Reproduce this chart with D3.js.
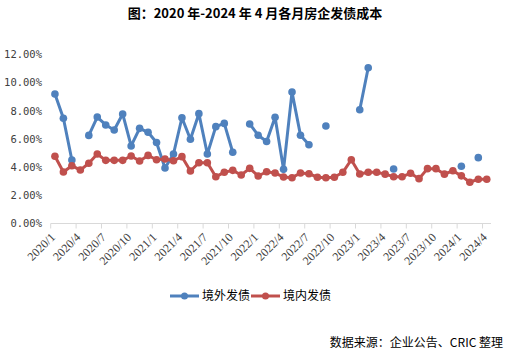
<!DOCTYPE html>
<html><head><meta charset="utf-8">
<script src="https://cdn.jsdelivr.net/npm/d3@7/dist/d3.min.js"></script>
<style>
body{margin:0;background:#fff;}
svg{display:block;}
</style></head>
<body>
<svg id="chart" width="516" height="356"></svg>
<script>
const categories = [
 "2020/1","2020/2","2020/3","2020/4","2020/5","2020/6","2020/7","2020/8","2020/9","2020/10","2020/11","2020/12",
 "2021/1","2021/2","2021/3","2021/4","2021/5","2021/6","2021/7","2021/8","2021/9","2021/10","2021/11","2021/12",
 "2022/1","2022/2","2022/3","2022/4","2022/5","2022/6","2022/7","2022/8","2022/9","2022/10","2022/11","2022/12",
 "2023/1","2023/2","2023/3","2023/4","2023/5","2023/6","2023/7","2023/8","2023/9","2023/10","2023/11","2023/12",
 "2024/1","2024/2","2024/3","2024/4"];
const tickLabels = ["2020/1","2020/4","2020/7","2020/10","2021/1","2021/4","2021/7","2021/10","2022/1","2022/4","2022/7","2022/10","2023/1","2023/4","2023/7","2023/10","2024/1","2024/4"];
const overseas = [9.18,7.46,4.50,null,6.25,7.55,6.99,6.63,7.77,5.50,6.75,6.47,
 5.75,3.94,4.93,7.50,5.97,7.79,4.93,6.87,7.10,5.05,null,7.06,
 6.26,5.82,7.53,3.84,9.32,6.26,5.59,null,6.91,null,null,null,
 8.07,11.05,null,null,3.87,null,null,null,null,null,null,null,
 4.06,null,4.67,null];
const domestic = [4.77,3.65,4.10,3.79,4.27,4.93,4.48,4.48,4.48,4.79,4.43,4.83,
 4.52,4.57,4.45,4.74,3.72,4.31,4.31,3.32,3.63,3.77,3.44,3.91,
 3.37,3.67,3.58,3.30,3.25,3.58,3.53,3.28,3.25,3.28,3.63,4.52,
 3.51,3.63,3.64,3.50,3.32,3.32,3.56,3.18,3.89,3.89,3.50,3.74,
 3.38,2.93,3.14,3.14];
const yTicks = [0,2,4,6,8,10,12];
const seriesNames = ["境外发债","境内发债"];
const colors = ["#4F81BD","#C0504D"];

const svg = d3.select("#chart");
const x = d3.scaleBand().domain(categories).range([50.7, 491]).padding(0);
const y = d3.scaleLinear().domain([0,12]).range([223.5, 54.3]);
const cx = d => x(d) + x.bandwidth()/2;

// title
svg.append("text").attr("x",255).attr("y",18).attr("text-anchor","middle")
  .attr("font-family","'Noto Sans CJK SC', sans-serif").attr("font-weight","bold")
  .attr("font-size",13).attr("fill","#000").text("图：2020 年-2024 年 4 月各月房企发债成本");

// y axis labels
const yAxis = d3.axisLeft(y).tickValues(yTicks).tickSize(0).tickPadding(0)
  .tickFormat(v => d3.format(".2f")(v) + "%");
const gy = svg.append("g").attr("transform","translate(42,0)").call(yAxis);
gy.select(".domain").remove();
gy.selectAll("text").attr("font-family","'DejaVu Sans Mono', monospace").attr("font-size",10.5).attr("fill","#404040");

// x axis
const gx = svg.append("g").attr("transform",`translate(0,${y(0)})`);
gx.append("line").attr("x1",x.range()[0]).attr("x2",x.range()[1]).attr("y1",0).attr("y2",0)
  .attr("stroke","#d9d9d9").attr("stroke-width",1);
gx.selectAll("line.tick").data(tickLabels).join("line").attr("class","tick")
  .attr("x1",d=>x(d)).attr("x2",d=>x(d)).attr("y1",0).attr("y2",5)
  .attr("stroke","#d9d9d9");
svg.append("g").selectAll("text").data(tickLabels).join("text")
  .attr("transform",d=>`translate(${cx(d)-2},${235}) rotate(-45)`)
  .attr("text-anchor","end").attr("dy","0.35em")
  .attr("font-family","'Liberation Serif', serif").attr("font-size",12).attr("fill","#404040")
  .text(d=>d);

// lines
const series = [overseas, domestic];
series.forEach((vals,si)=>{
  const pts = categories.map((c,i)=>({c, v: vals[i]}));
  const line = d3.line().defined(d=>d.v!==null).x(d=>cx(d.c)).y(d=>y(d.v));
  svg.append("path").datum(pts).attr("d",line).attr("fill","none")
    .attr("stroke",colors[si]).attr("stroke-width",3).attr("stroke-linejoin","round");
  svg.append("g").selectAll("circle").data(pts.filter(d=>d.v!==null)).join("circle")
    .attr("cx",d=>cx(d.c)).attr("cy",d=>y(d.v)).attr("r",3.8).attr("fill",colors[si]);
});

// legend
const legX = [170, 251];
seriesNames.forEach((n,i)=>{
  const g = svg.append("g").attr("transform",`translate(${legX[i]},296)`);
  g.append("line").attr("x1",0).attr("x2",29).attr("stroke",colors[i]).attr("stroke-width",3);
  g.append("circle").attr("cx",14.5).attr("cy",0).attr("r",3.5).attr("fill",colors[i]);
  g.append("text").attr("x",32).attr("y",0).attr("dy","0.36em")
    .attr("font-family","'Noto Sans CJK SC', sans-serif").attr("font-size",12).attr("fill","#000").text(n);
});

// source
svg.append("text").attr("x",503).attr("y",347).attr("text-anchor","end")
  .attr("font-family","'Noto Sans CJK SC', sans-serif").attr("font-size",12).attr("fill","#000")
  .text("数据来源：企业公告、CRIC 整理");
</script>
</body></html>
